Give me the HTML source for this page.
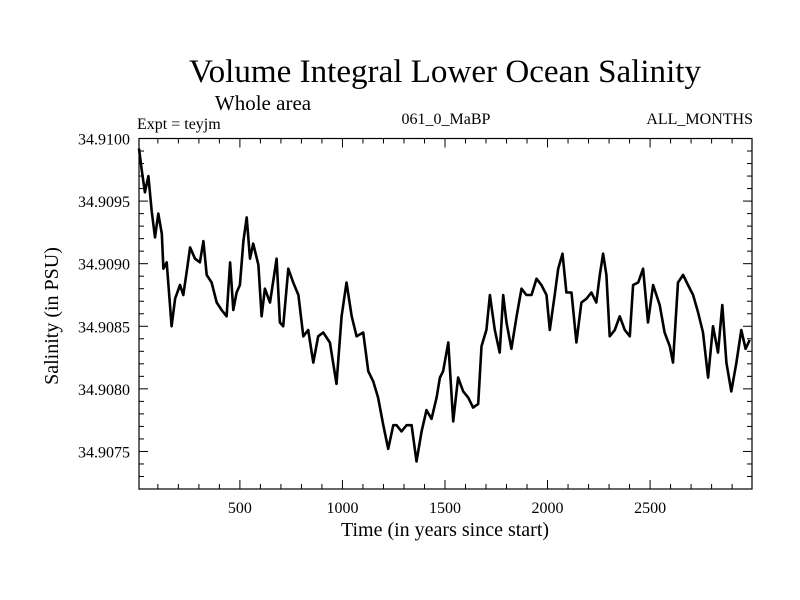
<!DOCTYPE html>
<html><head><meta charset="utf-8"><style>
html,body{margin:0;padding:0;background:#fff;}
svg{display:block;font-family:"Liberation Serif",serif;}
</style></head><body>
<svg id="chart" width="800" height="600">
<text x="445" y="82" font-size="33" text-anchor="middle" textLength="512" lengthAdjust="spacingAndGlyphs">Volume Integral Lower Ocean Salinity</text>
<text x="263" y="110" font-size="21" text-anchor="middle">Whole area</text>
<text x="137" y="129" font-size="16">Expt = teyjm</text>
<text x="446" y="124" font-size="16" text-anchor="middle">061_0_MaBP</text>
<text x="753" y="124" font-size="16" text-anchor="end">ALL_MONTHS</text>
<text x="445" y="536" font-size="20" text-anchor="middle">Time (in years since start)</text>
<text transform="translate(58,316) rotate(-90)" font-size="20" text-anchor="middle">Salinity (in PSU)</text>
<g id="axes"></g>
<path id="line" fill="none" stroke="#000" stroke-width="2.6" stroke-linejoin="round"></path>
<rect x="139" y="138.5" width="613" height="350.5" fill="none" stroke="#000" stroke-width="1.2"></rect>
</svg>
<script>
const years = [8,21,37,54,70,86,102,119,127,143,167,184,208,224,240,257,281,305,322,338,362,387,411,435,452,468,484,500,517,533,549,565,590,606,622,647,679,695,711,736,760,785,809,833,858,882,906,939,971,996,1020,1045,1069,1101,1126,1150,1174,1199,1223,1248,1264,1288,1313,1337,1361,1386,1410,1434,1459,1475,1491,1516,1540,1564,1589,1613,1637,1662,1678,1702,1719,1743,1767,1784,1800,1824,1849,1873,1897,1922,1946,1970,1995,2011,2035,2052,2073,2092,2117,2141,2165,2190,2214,2238,2255,2271,2287,2303,2328,2352,2377,2401,2417,2442,2466,2490,2515,2547,2571,2596,2612,2636,2661,2685,2710,2734,2758,2783,2807,2831,2852,2872,2896,2921,2945,2966,2986];
const salinity = [34.90992,34.90975,34.90957,34.90970,34.90942,34.90921,34.90940,34.90924,34.90896,34.90901,34.90850,34.90872,34.90883,34.90875,34.90893,34.90913,34.90904,34.90901,34.90918,34.90891,34.90885,34.90869,34.90863,34.90858,34.90901,34.90863,34.90877,34.90883,34.90918,34.90937,34.90904,34.90916,34.90899,34.90858,34.90880,34.90869,34.90904,34.90853,34.90850,34.90896,34.90885,34.90875,34.90842,34.90847,34.90821,34.90842,34.90845,34.90837,34.90804,34.90858,34.90885,34.90858,34.90842,34.90845,34.90814,34.90806,34.90793,34.90771,34.90752,34.90771,34.90771,34.90766,34.90771,34.90771,34.90742,34.90766,34.90783,34.90776,34.90793,34.90809,34.90814,34.90837,34.90774,34.90809,34.90798,34.90793,34.90785,34.90788,34.90834,34.90847,34.90875,34.90847,34.90829,34.90875,34.90853,34.90832,34.90858,34.90880,34.90875,34.90875,34.90888,34.90883,34.90875,34.90847,34.90875,34.90896,34.90908,34.90877,34.90877,34.90837,34.90869,34.90872,34.90877,34.90869,34.90891,34.90908,34.90891,34.90842,34.90847,34.90858,34.90847,34.90842,34.90883,34.90885,34.90896,34.90853,34.90883,34.90867,34.90845,34.90834,34.90821,34.90885,34.90891,34.90883,34.90875,34.90861,34.90845,34.90809,34.90850,34.90829,34.90867,34.90821,34.90798,34.90821,34.90847,34.90832,34.90839];
const xTicks = [500,1000,1500,2000,2500];
const xTickLabels = ["500","1000","1500","2000","2500"];
const yTicks = [34.9075,34.9080,34.9085,34.9090,34.9095,34.9100];
const yTickLabels = ["34.9075","34.9080","34.9085","34.9090","34.9095","34.9100"];

const L=139,R=752,T=138.5,B=489;
const X0=8,X1=2997,Y0=34.9072,Y1=34.9100;
function sx(v){return L+(v-X0)/(X1-X0)*(R-L);}
function sy(v){return B-(v-Y0)/(Y1-Y0)*(B-T);}
const NS="http://www.w3.org/2000/svg";
const axes=document.getElementById('axes');
function ln(x1,y1,x2,y2,name){
  const l=document.createElementNS(NS,'line');
  l.setAttribute('x1',x1);l.setAttribute('y1',y1);l.setAttribute('x2',x2);l.setAttribute('y2',y2);
  l.setAttribute('stroke','#000');l.setAttribute('stroke-width','1');
  
  
  axes.appendChild(l);
}
function tx(x,y,s,anchor,name){
  const t=document.createElementNS(NS,'text');
  t.setAttribute('x',x);t.setAttribute('y',y);t.setAttribute('font-size','16');t.setAttribute('text-anchor',anchor);
  t.textContent=s;
  
  
  axes.appendChild(t);
}
for(let v=100;v<X1;v+=100){
  const x=sx(v), major=v%500===0, len=major?9:5;
  ln(x,B,x,B-len,'x-tick');ln(x,T,x,T+len,'x-tick-top');
}
xTicks.forEach((v,i)=>tx(sx(v),513,xTickLabels[i],'middle','x-tick-label'));
for(let k=1;k<=27;k++){
  const v=34.9100-k*0.0001;
  const y=sy(v), major=k%5===0, len=major?9:5;
  ln(L,y,L+len,y,'y-tick');ln(R,y,R-len,y,'y-tick-right');
}
yTicks.forEach((v,i)=>tx(130,sy(v)+6,yTickLabels[i],'end','y-tick-label'));
let d='';
years.forEach((yr,i)=>{d+=(i?'L':'M')+sx(yr).toFixed(1)+','+sy(salinity[i]).toFixed(1);});
document.getElementById('line').setAttribute('d',d);
</script>
</body></html>
